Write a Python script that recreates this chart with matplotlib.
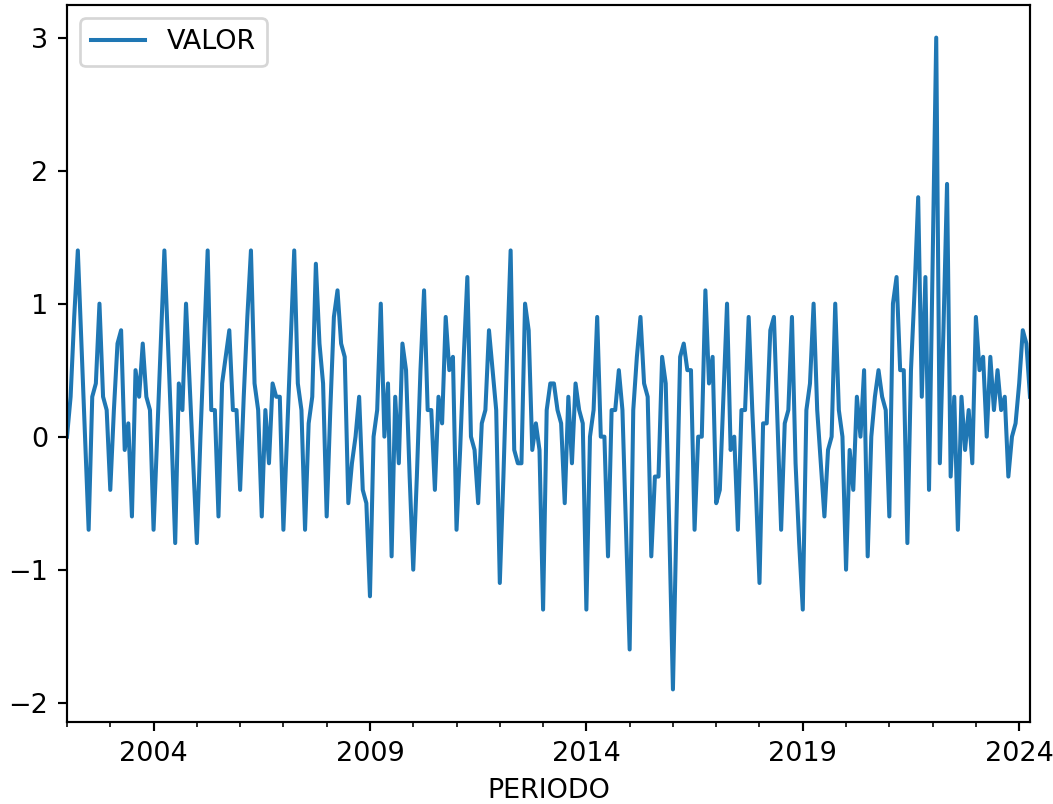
import matplotlib
matplotlib.use('Agg')
import matplotlib.pyplot as plt
import pandas as pd

# monthly values, one list per year
v2002 = [0.0, 0.3, 0.9, 1.4, 0.7, 0.0, -0.7, 0.3, 0.4, 1.0, 0.3, 0.2]
v2003 = [-0.4, 0.2, 0.7, 0.8, -0.1, 0.1, -0.6, 0.5, 0.3, 0.7, 0.3, 0.2]
v2004 = [-0.7, 0.0, 0.7, 1.4, 0.7, 0.0, -0.8, 0.4, 0.2, 1.0, 0.4, -0.2]
v2005 = [-0.8, 0.0, 0.7, 1.4, 0.2, 0.2, -0.6, 0.4, 0.6, 0.8, 0.2, 0.2]
v2006 = [-0.4, 0.3, 0.9, 1.4, 0.4, 0.2, -0.6, 0.2, -0.2, 0.4, 0.3, 0.3]
v2007 = [-0.7, 0.0, 0.7, 1.4, 0.4, 0.2, -0.7, 0.1, 0.3, 1.3, 0.7, 0.4]
v2008 = [-0.6, 0.2, 0.9, 1.1, 0.7, 0.6, -0.5, -0.2, 0.0, 0.3, -0.4, -0.5]
v2009 = [-1.2, 0.0, 0.2, 1.0, 0.0, 0.4, -0.9, 0.3, -0.2, 0.7, 0.5, -0.3]
v2010 = [-1.0, -0.3, 0.5, 1.1, 0.2, 0.2, -0.4, 0.3, 0.1, 0.9, 0.5, 0.6]
v2011 = [-0.7, -0.1, 0.6, 1.2, 0.0, -0.1, -0.5, 0.1, 0.2, 0.8, 0.5, 0.2]
v2012 = [-1.1, -0.3, 0.6, 1.4, -0.1, -0.2, -0.2, 1.0, 0.8, -0.1, 0.1, -0.1]
v2013 = [-1.3, 0.2, 0.4, 0.4, 0.2, 0.1, -0.5, 0.3, -0.2, 0.4, 0.2, 0.1]
v2014 = [-1.3, 0.0, 0.2, 0.9, 0.0, 0.0, -0.9, 0.2, 0.2, 0.5, 0.2, -0.7]
v2015 = [-1.6, 0.2, 0.6, 0.9, 0.4, 0.3, -0.9, -0.3, -0.3, 0.6, 0.4, -0.7]
v2016 = [-1.9, -0.6, 0.6, 0.7, 0.5, 0.5, -0.7, 0.0, 0.0, 1.1, 0.4, 0.6]
v2017 = [-0.5, -0.4, 0.3, 1.0, -0.1, 0.0, -0.7, 0.2, 0.2, 0.9, 0.2, -0.4]
v2018 = [-1.1, 0.1, 0.1, 0.8, 0.9, 0.1, -0.7, 0.1, 0.2, 0.9, -0.2, -0.8]
v2019 = [-1.3, 0.2, 0.4, 1.0, 0.2, -0.2, -0.6, -0.1, 0.0, 1.0, 0.2, 0.0]
v2020 = [-1.0, -0.1, -0.4, 0.3, 0.0, 0.5, -0.9, 0.0, 0.3, 0.5, 0.3, 0.2]
v2021 = [-0.6, 1.0, 1.2, 0.5, 0.5, -0.8, 0.5, 1.1, 1.8, 0.3, 1.2, -0.4]
v2022 = [1.3, 3.0, -0.2, 0.8, 1.9, -0.3, 0.3, -0.7, 0.3, -0.1, 0.2, -0.2]
v2023 = [0.9, 0.5, 0.6, 0.0, 0.6, 0.2, 0.5, 0.2, 0.3, -0.3, 0.0, 0.1]
v2024 = [0.4, 0.8, 0.7, 0.3]

valor = (v2002 + v2003 + v2004 + v2005 + v2006 + v2007 + v2008 + v2009
         + v2010 + v2011 + v2012 + v2013 + v2014 + v2015 + v2016 + v2017
         + v2018 + v2019 + v2020 + v2021 + v2022 + v2023 + v2024)

periodo = pd.period_range('2002-01', periods=len(valor), freq='M', name='PERIODO')
df = pd.DataFrame({'VALOR': valor}, index=periodo)

# reference looks like a default pandas plot rendered at ~194 dpi
dpi = 194
fig = plt.figure(figsize=(1053 / dpi, 804 / dpi), dpi=dpi)
ax = fig.add_axes([67 / 1053, 1 - 722 / 804, (1030 - 67) / 1053, (722 - 5) / 804])
df.plot(ax=ax)
ax.legend(loc='upper left')

fig.savefig('out.png', dpi=dpi)
